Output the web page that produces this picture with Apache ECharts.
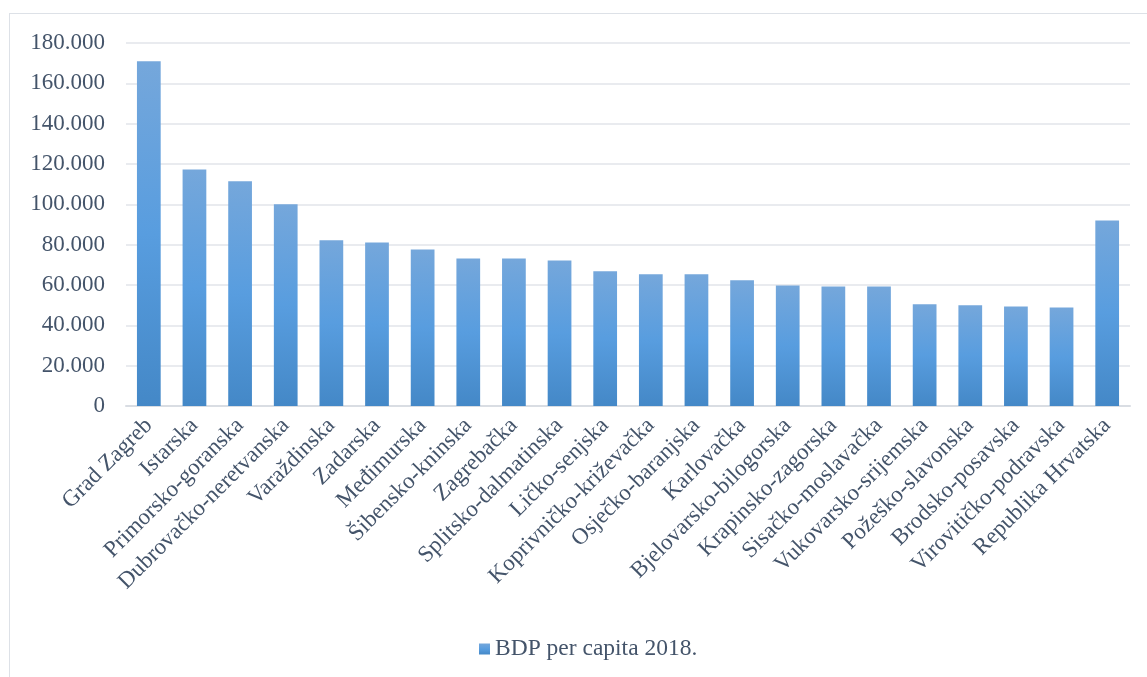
<!DOCTYPE html>
<html><head><meta charset="utf-8">
<script src="https://cdn.jsdelivr.net/npm/echarts@6/dist/echarts.min.js"></script>
<style>
html,body{margin:0;padding:0;background:#fff;overflow:hidden;}
#frame{position:absolute;left:9px;top:13px;width:1160px;height:700px;border:1.5px solid #dde1e7;box-sizing:border-box;}
#c{position:absolute;left:0;top:0;width:1147px;height:677px;}
</style></head>
<body>
<div id="frame"></div>
<div id="c"></div>
<script>
const categories = ["Grad Zagreb","Istarska","Primorsko-goranska","Dubrovačko-neretvanska","Varaždinska","Zadarska","Međimurska","Šibensko-kninska","Zagrebačka","Splitsko-dalmatinska","Ličko-senjska","Koprivničko-križevačka","Osječko-baranjska","Karlovačka","Bjelovarsko-bilogorska","Krapinsko-zagorska","Sisačko-moslavačka","Vukovarsko-srijemska","Požeško-slavonska","Brodsko-posavska","Virovitičko-podravska","Republika Hrvatska"];
const values = [170900,117300,111400,100000,82200,81100,77600,73200,73200,72200,66800,65300,65300,62300,59700,59300,59300,50400,49900,49400,48900,92000];
const seriesName = "BDP per capita 2018.";

const chart = echarts.init(document.getElementById('c'), null, {renderer:'canvas'});
const grad = new echarts.graphic.LinearGradient(0,0,0,1,[
  {offset:0,color:'#75a7db'},
  {offset:0.5,color:'#589ddf'},
  {offset:1,color:'#4488c7'}
]);
function fmt(v){ return String(v).replace(/\B(?=(\d{3})+(?!\d))/g,'.'); }
chart.setOption({
  animation:false,
  grid:{left:126,right:17,top:43,bottom:271,containLabel:false},
  legend:{
    bottom:11,left:474,
    itemWidth:11,itemHeight:11,itemGap:5,
    icon:'rect',
    textStyle:{fontFamily:'Liberation Serif',fontSize:23.5,color:'#44546a'},
    data:[seriesName]
  },
  xAxis:{
    type:'category',data:categories,
    axisLine:{show:true,lineStyle:{color:'#d9dde3',width:2}},
    axisTick:{show:false},
    axisLabel:{rotate:45,interval:0,margin:16,fontFamily:'Liberation Serif',fontSize:23,color:'#44546a'}
  },
  yAxis:{
    type:'value',min:0,max:180000,interval:20000,
    axisLine:{show:false},axisTick:{show:false},
    splitLine:{lineStyle:{color:'#e2e5ea',width:1.5}},
    axisLabel:{formatter:fmt,margin:21,fontFamily:'Liberation Serif',fontSize:23,color:'#44546a'}
  },
  series:[{
    name:seriesName,type:'bar',data:values,barWidth:'52%',
    itemStyle:{color:grad}
  }]
});
</script>
</body></html>
